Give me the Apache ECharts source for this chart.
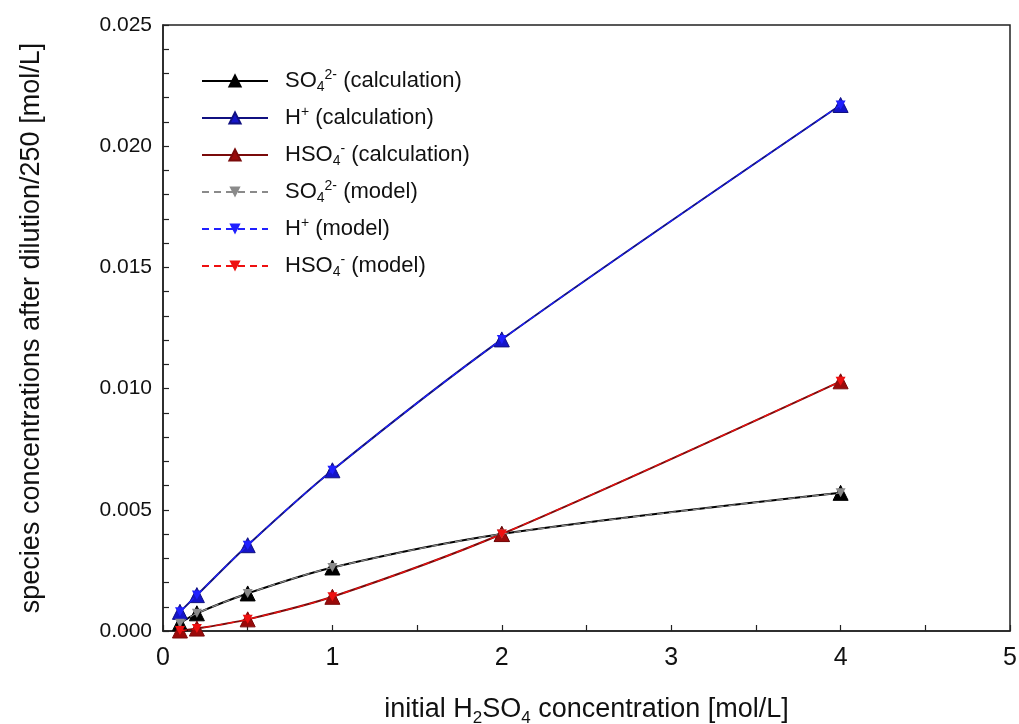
<!DOCTYPE html>
<html>
<head>
<meta charset="utf-8">
<script src="https://cdn.jsdelivr.net/npm/echarts@6/dist/echarts.min.js"></script>
<style>
  html, body { margin: 0; padding: 0; background: #fff; }
  #chart { width: 1019px; height: 724px; }
</style>
</head>
<body>
<div id="chart"></div>
<script>
/* -----------------------------
   Sulfuric acid speciation after dilution
   ----------------------------- */

// initial H2SO4 concentration [mol/L]
const concentrations = [0.1, 0.2, 0.5, 1, 2, 4];

// species concentrations after dilution/250 [mol/L]
const so4Calc  = [0.00032, 0.00073, 0.00155, 0.00262, 0.0040, 0.0057];
const hCalc    = [0.00079, 0.00148, 0.00354, 0.00663, 0.01203, 0.0217];
const hso4Calc = [0.00002, 0.00010, 0.00048, 0.00141, 0.0040, 0.0103];

const so4Model  = [0.00032, 0.00073, 0.00155, 0.00262, 0.0040, 0.0057];
const hModel    = [0.00079, 0.00148, 0.00354, 0.00663, 0.01203, 0.0217];
const hso4Model = [0.00002, 0.00010, 0.00048, 0.00141, 0.0040, 0.0103];

// legend labels (rich text for sub/superscripts)
const legendLabels = {
  "SO4 calc":  "SO{sub|4}{sup|2-} (calculation)",
  "H calc":    "H{sup|+} (calculation)",
  "HSO4 calc": "HSO{sub|4}{sup|-} (calculation)",
  "SO4 model": "SO{sub|4}{sup|2-} (model)",
  "H model":   "H{sup|+} (model)",
  "HSO4 model":"HSO{sub|4}{sup|-} (model)"
};

const DOWN_TRI = "path://M0,0 L10,0 L5,9 Z";
const FONT = "Liberation Sans, Arial, sans-serif";

const pairs = (ys) => concentrations.map((x, i) => [x, ys[i]]);

function calcSeries(name, ys, color, markerColor) {
  return {
    name: name,
    type: "line",
    data: pairs(ys),
    smooth: 0.3,
    symbol: "triangle",
    symbolSize: 15,
    lineStyle: { color: color, width: 2 },
    itemStyle: { color: markerColor, borderColor: color, borderWidth: 1 },
    z: 2
  };
}

function modelSeries(name, ys, color) {
  return {
    name: name,
    type: "line",
    data: pairs(ys),
    smooth: 0.3,
    symbol: DOWN_TRI,
    symbolSize: [10, 9],
    lineStyle: { color: color, width: 1.2, type: [7, 5] },
    itemStyle: { color: color },
    z: 3
  };
}

const chart = echarts.init(document.getElementById("chart"));

chart.setOption({
  backgroundColor: "#fff",
  animation: false,
  grid: {
    left: 163,
    right: 9,
    top: 25,
    bottom: 93,
    outerBoundsMode: "none",
    show: true,
    borderColor: "#222",
    borderWidth: 1.5,
    backgroundColor: "transparent"
  },
  legend: {
    orient: "vertical",
    left: 196,
    top: 63,
    itemWidth: 66,
    itemHeight: 14,
    itemGap: 11,
    data: Object.keys(legendLabels),
    formatter: (name) => legendLabels[name],
    textStyle: {
      fontFamily: FONT,
      fontSize: 22,
      color: "#111",
      lineHeight: 26,
      padding: [0, 0, 0, 12],
      rich: {
        sub: { fontFamily: FONT, fontSize: 14, color: "#111", verticalAlign: "bottom", lineHeight: 13 },
        sup: { fontFamily: FONT, fontSize: 14, color: "#111", verticalAlign: "top", lineHeight: 13 }
      }
    }
  },
  xAxis: {
    type: "value",
    min: 0,
    max: 5,
    interval: 1,
    name: "initial H{sub|2}SO{sub|4} concentration [mol/L]",
    nameLocation: "middle",
    nameGap: 62,
    nameTextStyle: {
      fontFamily: FONT,
      fontSize: 27,
      color: "#111",
      lineHeight: 34,
      rich: {
        sub: { fontFamily: FONT, fontSize: 17, color: "#111", verticalAlign: "bottom", lineHeight: 17 }
      }
    },
    axisLine: { show: true, lineStyle: { color: "#222", width: 1.5 } },
    axisTick: { show: true, inside: true, length: 6, lineStyle: { color: "#222", width: 1.2 } },
    minorTick: { show: true, splitNumber: 2, length: 6, lineStyle: { color: "#222", width: 1.2 } },
    splitLine: { show: false },
    axisLabel: { fontFamily: FONT, fontSize: 25, color: "#111", margin: 15 }
  },
  yAxis: {
    type: "value",
    min: 0,
    max: 0.025,
    interval: 0.005,
    name: "species concentrations after dilution/250 [mol/L]",
    nameLocation: "middle",
    nameGap: 118,
    nameTextStyle: { fontFamily: FONT, fontSize: 27, color: "#111" },
    axisLine: { show: true, lineStyle: { color: "#222", width: 1.5 } },
    axisTick: { show: true, inside: true, length: 6, lineStyle: { color: "#222", width: 1.2 } },
    minorTick: { show: true, splitNumber: 5, length: 6, lineStyle: { color: "#222", width: 1.2 } },
    splitLine: { show: false },
    axisLabel: {
      fontFamily: FONT,
      fontSize: 21,
      color: "#111",
      margin: 11,
      formatter: (v) => v.toFixed(3)
    }
  },
  series: [
    calcSeries("SO4 calc", so4Calc, "#000000", "#000000"),
    calcSeries("H calc", hCalc, "#101080", "#1515c8"),
    calcSeries("HSO4 calc", hso4Calc, "#7a0a0a", "#9a0a0a"),
    modelSeries("SO4 model", so4Model, "#8a8a8a"),
    modelSeries("H model", hModel, "#2020ff"),
    modelSeries("HSO4 model", hso4Model, "#ee1010")
  ]
});
</script>
</body>
</html>
